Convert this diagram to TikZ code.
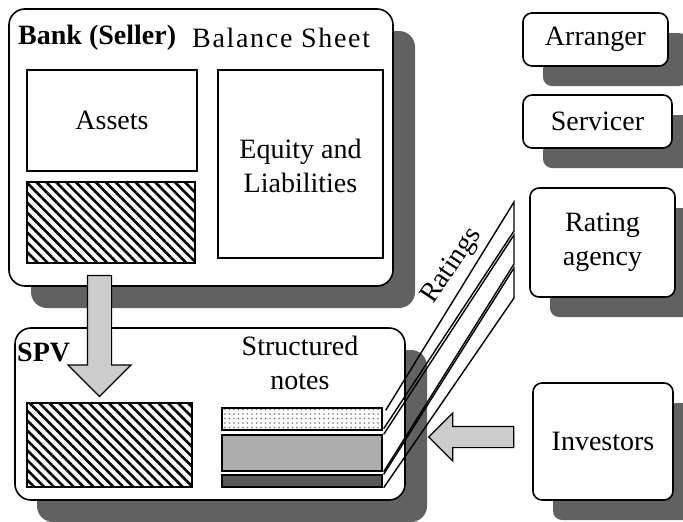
\documentclass[tikz,border=0pt]{standalone}
\usepackage{fontspec}
\setmainfont{Liberation Serif}
\usetikzlibrary{shadows,patterns.meta,shapes.arrows}

\begin{document}
\begin{tikzpicture}[x=1pt,y=-1pt,
    panel/.style={draw=black, line width=1.6pt, fill=white, rounded corners=16pt,
      inner sep=0pt,
      drop shadow={shadow xshift=22pt, shadow yshift=-22pt, fill=black!62, opacity=1}},
    party/.style={draw=black, line width=1.6pt, fill=white, rounded corners=9pt,
      inner sep=0pt, align=center, font=\fontsize{28}{34}\selectfont,
      drop shadow={shadow xshift=20pt, shadow yshift=-20pt, fill=black!62, opacity=1}},
    part/.style={draw=black, line width=1.4pt, inner sep=0pt},
    hatch/.style={part, pattern={Lines[angle=-45, distance=7pt, line width=2.6pt]}},
    label/.style={font=\fontsize{28}{34}\selectfont, inner sep=0pt, align=center},
    bigarrow/.style={shape=single arrow, draw=black, line width=1.2pt, fill=black!20,
      single arrow head indent=0pt, inner xsep=0pt, minimum width=0pt},
    strip/.style={draw=black, line width=1.4pt, line join=miter}
  ]
  \useasboundingbox (0,0) rectangle (683,522);

  % bank balance sheet
  \node[panel, minimum width=384pt, minimum height=277pt] (bank) at (201,147.5) {};
  \node[label, anchor=west, font=\fontsize{28}{34}\selectfont\bfseries] (banktitle) at (18,38) {Bank (Seller)};
  \node[label, anchor=west, font=\fontsize{28}{34}\selectfont\addfontfeatures{LetterSpace=6}] (sheet) at (192,38) {Balance Sheet};
  \node[part, minimum width=170pt, minimum height=101pt] (assets) at (112,120.5) {};
  \node[label] at (112,120) {Assets};
  \node[hatch, minimum width=168pt, minimum height=81pt] (pool) at (111,222.5) {};
  \node[part, minimum width=165pt, minimum height=188pt] (equity) at (300.5,164) {};
  \node[label] at (300.5,166) {Equity and\\Liabilities};

  % special purpose vehicle
  \node[panel, minimum width=390pt, minimum height=172pt] (spv) at (210,414) {};
  \node[label, anchor=west, font=\fontsize{28}{34}\selectfont\bfseries] (spvtitle) at (17,352) {SPV};
  \node[label] (notes) at (300,363) {Structured\\notes};
  \node[hatch, minimum width=165pt, minimum height=84pt] (sold) at (109.5,445) {};
  \node[part, minimum width=160pt, minimum height=22pt,
    pattern={Dots[radius=0.8pt, distance=4.5pt]}, pattern color=black!55] (senior) at (302,419) {};
  \node[part, minimum width=160pt, minimum height=36pt, fill=black!32] (mezz) at (302,453) {};
  \node[part, minimum width=160pt, minimum height=12pt, fill=black!65] (junior) at (302,481) {};

  % other parties
  \node[party, minimum width=145pt, minimum height=53pt] (arranger) at (595.5,39.5) {Arranger};
  \node[party, minimum width=149pt, minimum height=53pt] (servicer) at (597.5,121.5) {Servicer};
  \node[party, minimum width=145pt, minimum height=109pt] (agency) at (602.5,242.5) {Rating\\agency};
  \node[party, minimum width=140pt, minimum height=117pt] (investors) at (603,441.5) {Investors};

  % block arrows
  \node[bigarrow, minimum height=121pt, inner ysep=11.5pt, single arrow head extend=19.5pt,
    rotate=-90] (transfer) at (99.5,330) {};
  \node[bigarrow, minimum height=85pt, inner ysep=10pt, single arrow head extend=13.5pt,
    rotate=180] (funding) at (476.5,437) {};

  % ratings
  \coordinate (r1) at (514,202);
  \coordinate (r2) at (514,231);
  \coordinate (r3) at (514,235);
  \coordinate (r4) at (514,264);
  \coordinate (r5) at (514,268);
  \coordinate (r6) at (514,298);
  \draw[strip] ([shift={(3pt,-3pt)}]senior.north east) -- (r1) -- (r2) -- ([shift={(1pt,2pt)}]senior.south east);
  \draw[strip] ([shift={(1pt,0pt)}]mezz.north east) -- (r3) -- (r4) -- ([shift={(1pt,0pt)}]mezz.south east);
  \draw[strip] ([shift={(1pt,0pt)}]junior.north east) -- (r5) -- (r6) -- ([shift={(1pt,0pt)}]junior.south east);
  \node[label, rotate=56] (ratings) at (452,266) {Ratings};

\end{tikzpicture}
\end{document}
